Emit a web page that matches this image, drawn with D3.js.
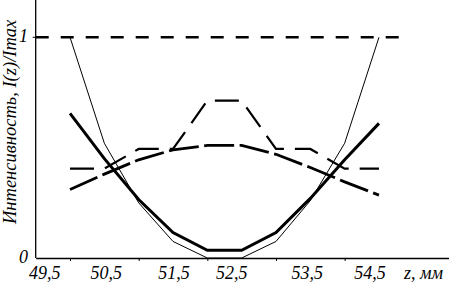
<!DOCTYPE html>
<html>
<head>
<meta charset="utf-8">
<script src="https://cdn.jsdelivr.net/npm/d3@7"></script>
<style>
  html, body { margin: 0; padding: 0; background: #fff; }
  svg { display: block; }
  text { font-family: "Liberation Serif", "DejaVu Serif", serif; font-style: italic; fill: #000; }
</style>
</head>
<body>
<div id="chart"></div>
<script>
// Положения по оси z (мм) и значения кривых I(z)/Imax
const zValues = [50, 50.5, 51, 51.5, 52, 52.5, 53, 53.5, 54, 54.5];
const thinSeries = [1.0, 0.52, 0.25, 0.075, 0, 0, 0.075, 0.26, 0.52, 1.0];
const thickSeries = [0.655, 0.45, 0.265, 0.115, 0.035, 0.035, 0.115, 0.27, 0.445, 0.61];
const bellSeries = [0.31, 0.38, 0.445, 0.49, 0.51, 0.51, 0.47, 0.41, 0.345, 0.285];
const stepSeries = [0.405, 0.405, 0.494, 0.494, 0.713, 0.713, 0.494, 0.494, 0.405, 0.405];

// Линия уровня Imax
const refLineZ = [49.5, 54.8];
const refLineValue = 1;

// Подписи осей
const xTickValues = [50, 51, 52, 53, 54];
const xLabelZ = [49.5, 50.5, 51.5, 52.5, 53.5, 54.5];
const xLabelText = ["49,5", "50,5", "51,5", "52,5", "53,5", "54,5"];
const yLabelValues = [0, 1];
const yLabelText = ["0", "1"];
const xTitle = "z, мм";
const yTitle = "Интенсивность, I(z)/Imax";

const W = 449, H = 284;
const svg = d3.select("#chart").append("svg")
    .attr("width", W)
    .attr("height", H);

svg.append("rect").attr("width", W).attr("height", H).attr("fill", "#fff");

// Шкалы
const x = d3.scaleLinear().domain([49.5, 55.52]).range([35.7, 449]);
const y = d3.scaleLinear().domain([0, 1]).range([258, 37.3]);

// Ось X
const xAxis = svg.append("g")
    .attr("transform", `translate(0, ${y(0)})`)
    .call(d3.axisBottom(x).tickValues(xTickValues).tickSize(3).tickSizeOuter(0).tickFormat(""));
xAxis.select(".domain").attr("stroke-width", 1.3);

// Ось Y (тянется до верхнего края)
svg.append("line")
    .attr("x1", x(49.5)).attr("x2", x(49.5))
    .attr("y1", 0).attr("y2", y(0))
    .attr("stroke", "#000").attr("stroke-width", 1.3);
svg.append("line")
    .attr("x1", x(49.5) - 3).attr("x2", x(49.5))
    .attr("y1", y(1)).attr("y2", y(1))
    .attr("stroke", "#000");

// Подписи делений (сдвиги — как в оригинале)
const labelNudge = [9, 2, 1, -10, -3, -9];
svg.selectAll(".xlab")
    .data(xLabelZ)
    .enter().append("text")
    .attr("class", "xlab")
    .attr("x", (d, i) => x(d) + labelNudge[i])
    .attr("y", 279)
    .attr("text-anchor", "middle")
    .style("font-size", "18px")
    .text((d, i) => xLabelText[i]);

svg.selectAll(".ylab")
    .data(yLabelValues)
    .enter().append("text")
    .attr("class", "ylab")
    .attr("x", 28)
    .attr("y", d => y(d) + 5)
    .attr("text-anchor", "end")
    .style("font-size", "18px")
    .text((d, i) => yLabelText[i]);

svg.append("text")
    .attr("x", 404)
    .attr("y", 279)
    .style("font-size", "18px")
    .text(xTitle);

svg.append("text")
    .attr("transform", "translate(16, 224) rotate(-90)")
    .style("font-size", "18.5px")
    .text(yTitle);

// Линии
const line = d3.line()
    .x((d, i) => x(zValues[i]))
    .y(d => y(d));

svg.append("path")
    .datum(refLineZ)
    .attr("fill", "none")
    .attr("stroke", "#000")
    .attr("stroke-width", 2.5)
    .attr("stroke-dasharray", "13,12")
    .attr("d", d3.line().x(d => x(d)).y(() => y(refLineValue)));

svg.append("path")
    .datum(thinSeries)
    .attr("fill", "none")
    .attr("stroke", "#000")
    .attr("stroke-width", 1)
    .attr("d", line);

svg.append("path")
    .datum(thickSeries)
    .attr("fill", "none")
    .attr("stroke", "#000")
    .attr("stroke-width", 3)
    .attr("d", line);

svg.append("path")
    .datum(bellSeries)
    .attr("fill", "none")
    .attr("stroke", "#000")
    .attr("stroke-width", 2.8)
    .attr("stroke-dasharray", "30,5.5")
    .attr("d", line);

svg.append("path")
    .datum(stepSeries)
    .attr("fill", "none")
    .attr("stroke", "#000")
    .attr("stroke-width", 2.2)
    .attr("stroke-dasharray", "24,11")
    .attr("d", line);
</script>
</body>
</html>
